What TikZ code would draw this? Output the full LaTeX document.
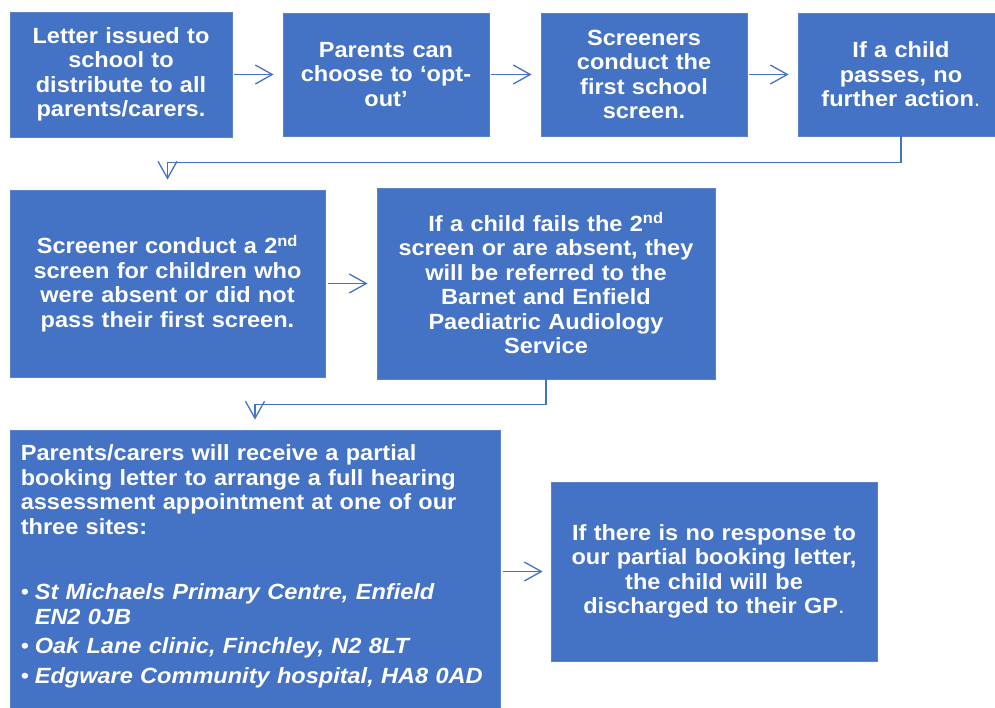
\documentclass[tikz,border=0pt]{standalone}
\usepackage{fontspec}
\setmainfont{Liberation Sans}[FakeStretch=1.07]
\usetikzlibrary{arrows.meta}
\definecolor{boxblue}{HTML}{4472C4}
\definecolor{boxedge}{HTML}{5A82CA}
\begin{document}
\begin{tikzpicture}[x=1pt,y=-1pt,
  box/.style={draw=boxedge, line width=0.8pt, fill=boxblue, text=white,
    font=\fontsize{22}{24.5}\selectfont\bfseries, align=center, inner sep=0pt},
  txt/.style={text=white, font=\fontsize{22}{24.5}\selectfont\bfseries, inner sep=0pt},
  arr/.style={draw=boxblue, line width=1.3pt, line join=miter,
    -{Straight Barb[length=17pt,width=19pt]}}]
\useasboundingbox (0,0) rectangle (995,707);
% row 1
\node[box, minimum width=222pt, minimum height=125pt, text width=216pt] (b1) at (121,74.5)
  {Letter issued to\\school to\\distribute to all\\parents/carers.};
\node[box, minimum width=206pt, minimum height=123pt, text width=200pt] (b2) at (386,74.5)
  {Parents can\\choose to ‘opt-\\out’};
\node[box, minimum width=206pt, minimum height=123pt, text width=200pt] (b3) at (644,74.5)
  {Screeners\\conduct the\\first school\\screen.};
\node[box, minimum width=206pt, minimum height=123pt, text width=200pt] (b4) at (901,74.5)
  {If a child\\passes, no\\further action{\mdseries .}};
% row 2
\node[box, minimum width=315pt, minimum height=187pt, text width=309pt] (b5) at (167.5,283.5)
  {Screener conduct a 2\textsuperscript{nd}\\screen for children who\\were absent or did not\\pass their first screen.};
\node[box, minimum width=338pt, minimum height=191pt, text width=332pt] (b6) at (546,283.5)
  {If a child fails the 2\textsuperscript{nd}\\screen or are absent, they\\will be referred to the\\Barnet and Enfield\\Paediatric Audiology\\Service};
% row 3
\node[box, minimum width=490pt, minimum height=300pt] (b7) at (255,580) {};
\node[txt, anchor=north west, text width=480pt, align=left] (t7) at ([shift={(11,15)}]b7.north west)
  {Parents/carers will receive a partial\\
   booking letter to arrange a full hearing\\
   assessment appointment at one of our\\
   three sites:\\[41pt]
   \makebox[14pt][l]{\mdseries •}\textit{St Michaels Primary Centre, Enfield}\\
   \hspace*{14pt}\textit{EN2 0JB}\\[4.5pt]
   \makebox[14pt][l]{\mdseries •}\textit{Oak Lane clinic, Finchley, N2 8LT}\\[5.5pt]
   \makebox[14pt][l]{\mdseries •}\textit{Edgware Community hospital, HA8 0AD}};
\node[box, minimum width=326pt, minimum height=179pt, text width=320pt] (b8) at (714,571.5)
  {If there is no response to\\our partial booking letter,\\the child will be\\discharged to their GP{\mdseries .}};
% connectors
\draw[arr, shorten <=2pt, shorten >=9pt] (b1) -- (b2);
\draw[arr, shorten <=2pt, shorten >=9pt] (b2) -- (b3);
\draw[arr, shorten <=2pt, shorten >=9pt] (b3) -- (b4);
\draw[arr, shorten >=10pt] (b4.south) -- ++(0,26) -| (b5.north);
\draw[arr, shorten <=3pt, shorten >=9pt] (b5) -- (b6);
\draw[arr, shorten >=10pt] (b6.south) -- ++(0,25) -| (b7.north);
\draw[arr, shorten <=3pt, shorten >=8pt] (b7.east |- b8.west) -- (b8.west);
\end{tikzpicture}
\end{document}
